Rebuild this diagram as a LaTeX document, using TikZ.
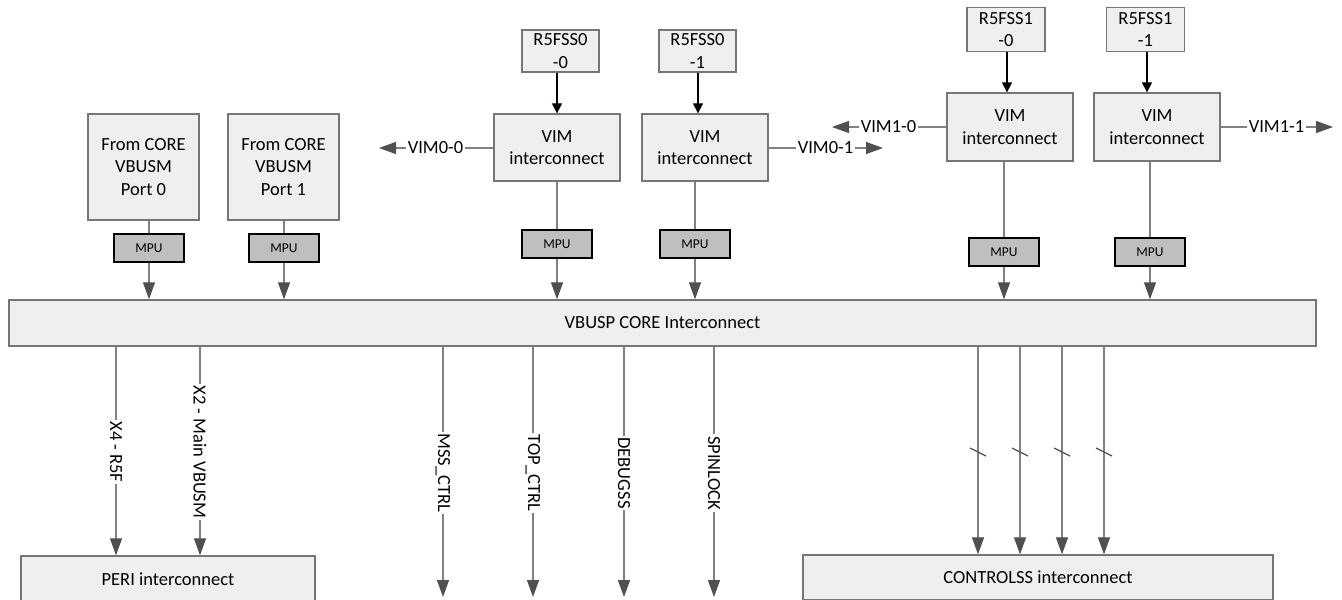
\documentclass[tikz,border=0pt]{standalone}
\usepackage{fontspec}
\setmainfont{Carlito}
\usetikzlibrary{arrows.meta}

\definecolor{boxfill}{RGB}{239,239,239}
\definecolor{boxline}{RGB}{118,118,118}
\definecolor{linegray}{RGB}{128,128,128}
\definecolor{tipgray}{RGB}{80,80,80}
\definecolor{mpufill}{RGB}{191,191,191}

\tikzstyle{blk}=[draw=boxline,fill=boxfill,line width=1.3pt,align=center,inner sep=0pt,font=\fontsize{18.5}{22.5}\selectfont]
\tikzstyle{mpu}=[draw=black,fill=mpufill,line width=2.4pt,inner sep=0pt,minimum width=70pt,minimum height=28pt,font=\fontsize{13.5}{16}\selectfont]
\tikzstyle{lbl}=[inner sep=1.5pt,font=\fontsize{18.5}{22.5}\selectfont]
\tikzstyle{rlbl}=[lbl,rotate=-90,fill=white]
\tikzstyle{gline}=[draw=linegray,line width=1.2pt]
\tikzstyle{garrow}=[gline,-{Triangle[length=17pt,width=12pt,color=tipgray]}]
\tikzstyle{karrow}=[draw=black,line width=1.2pt,-{Triangle[length=10pt,width=10pt]}]

\begin{document}
\begin{tikzpicture}[x=1pt,y=-1pt]
		\useasboundingbox (0,0) rectangle (1342,600);
		\clip (0,0) rectangle (1342,600);
		
		% sources on the left
		\node (port0) at (143.5,167) [blk,minimum width=111pt,minimum height=106pt] {From CORE\\VBUSM\\Port 0};
		\node (port1) at (283.5,167) [blk,minimum width=111pt,minimum height=106pt] {From CORE\\VBUSM\\Port 1};
		\node (mpu0) at (149,248) [mpu] {MPU};
		\node (mpu1) at (284,248) [mpu] {MPU};
		
		% R5FSS0
		\node (r0a) at (560.5,51) [blk,minimum width=77pt,minimum height=42pt] {R5FSS0\\-0};
		\node (r0b) at (697.5,51) [blk,minimum width=77pt,minimum height=42pt] {R5FSS0\\-1};
		\node (vim0a) at (557,147.5) [blk,minimum width=126pt,minimum height=67pt] {VIM\\interconnect};
		\node (vim0b) at (705,147.5) [blk,minimum width=126pt,minimum height=67pt] {VIM\\interconnect};
		\node (mpu2) at (557,244) [mpu] {MPU};
		\node (mpu3) at (695,244) [mpu] {MPU};
		
		% R5FSS1
		\node (r1a) at (1006,29.5) [blk,minimum width=78pt,minimum height=44pt] {R5FSS1\\-0};
		\node (r1b) at (1145.5,29.5) [blk,minimum width=78pt,minimum height=44pt] {R5FSS1\\-1};
		\node (vim1a) at (1010,127) [blk,minimum width=126pt,minimum height=68pt] {VIM\\interconnect};
		\node (vim1b) at (1157,127) [blk,minimum width=126pt,minimum height=68pt] {VIM\\interconnect};
		\node (mpu4) at (1004,252) [mpu] {MPU};
		\node (mpu5) at (1150,252) [mpu] {MPU};
		
		% interconnects
		\node (core) at (662.5,323) [blk,minimum width=1307pt,minimum height=46pt] {VBUSP CORE Interconnect};
		\node (peri) at (168,579) [blk,minimum width=294pt,minimum height=46pt] {PERI interconnect};
		\node (ctrl) at (1038,577.5) [blk,minimum width=470pt,minimum height=45pt] {CONTROLSS interconnect};
		
		% VIM outputs
		\node (v00) at (435.5,148) [lbl] {VIM0-0};
		\node (v01) at (825.5,148) [lbl] {VIM0-1};
		\node (v10) at (888.5,127) [lbl] {VIM1-0};
		\node (v11) at (1276.5,127) [lbl] {VIM1-1};
		\coordinate (e00) at (379,148);
		\coordinate (e01) at (883,148);
		\coordinate (e10) at (832,127);
		\coordinate (e11) at (1333,127);
		\draw[gline] (v00.east) -- (v00.east -| vim0a.west);
		\draw[garrow] (v00.west) -- (e00);
		\draw[gline] (v01.west -| vim0b.east) -- (v01.west);
		\draw[garrow] (v01.east) -- (e01);
		\draw[gline] (v10.east) -- (v10.east -| vim1a.west);
		\draw[garrow] (v10.west) -- (e10);
		\draw[gline] (v11.west -| vim1b.east) -- (v11.west);
		\draw[garrow] (v11.east) -- (e11);
		
		% into the VIMs
		\foreach \r/\v/\x in {r0a/vim0a/557,r0b/vim0b/698,r1a/vim1a/1007,r1b/vim1b/1147}{
			\draw[karrow] (\r.south -| \x,0) -- (\v.north -| \x,0);
		}
		
		% through the MPUs into the core
		\foreach \src/\m in {port0/mpu0,port1/mpu1,vim0a/mpu2,vim0b/mpu3,vim1a/mpu4,vim1b/mpu5}{
			\draw[gline] (\src.south -| \m.north) -- (\m.north);
			\draw[garrow] (\m.south) -- (core.north -| \m.south);
		}
		
		% out of the core
		\node (lx4) at (116,452) [rlbl] {X4 - R5F};
		\node (lx2) at (200,452) [rlbl] {X2 - Main VBUSM};
		\draw[gline] (core.south -| lx4) -- (lx4);
		\draw[garrow] (lx4) -- (peri.north -| lx4);
		\draw[gline] (core.south -| lx2) -- (lx2);
		\draw[garrow] (lx2) -- (peri.north -| lx2);
		
		\foreach \n/\x/\t in {mss/443/MSS\_CTRL,top/533/TOP\_CTRL,dbg/624/DEBUGSS,spin/714/SPINLOCK}{
			\node (l\n) at (\x,473) [rlbl] {\t};
			\coordinate (e\n) at (\x,597);
			\draw[gline] (core.south -| l\n) -- (l\n);
			\draw[garrow] (l\n) -- (e\n);
		}
		
		\foreach \x [count=\i] in {978,1020,1062,1104}{
			\coordinate (s\i) at (\x,452);
			\draw[garrow] (core.south -| s\i) -- (ctrl.north -| s\i);
			\draw[draw=tipgray,line width=1.2pt] ([shift={(-8,-4)}]s\i) -- ([shift={(8,4)}]s\i);
		}
	\end{tikzpicture}
\end{document}
